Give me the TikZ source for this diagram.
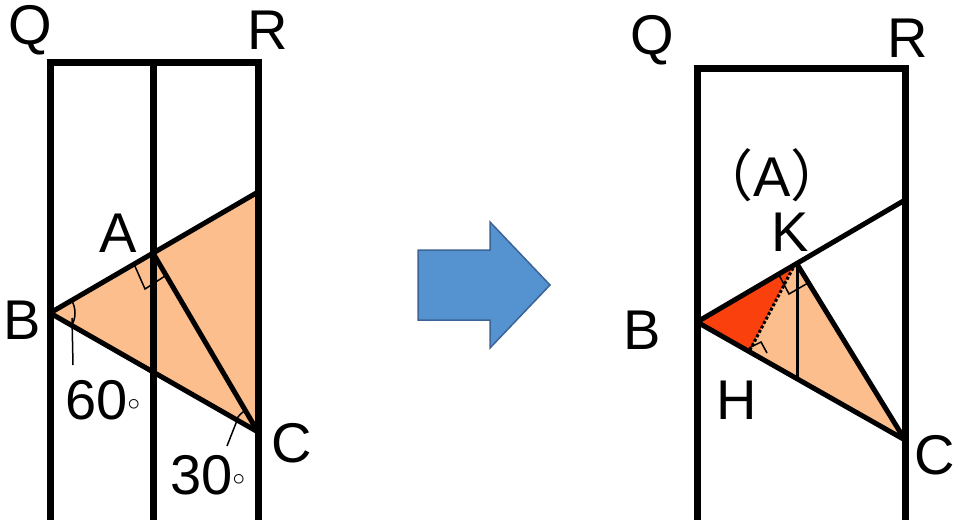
\documentclass[tikz,border=0pt]{standalone}
\usepackage{fontspec}
\setmainfont{Liberation Sans}
\newfontfamily\cjk{Noto Sans CJK JP}
\usetikzlibrary{calc}
\definecolor{peach}{RGB}{251,190,140}
\definecolor{redfill}{RGB}{250,64,12}
\definecolor{arrowblue}{RGB}{84,146,208}
\definecolor{arrowedge}{RGB}{60,100,150}
\tikzset{
  wall/.style={line width=7pt},
  edge/.style={line width=5pt,line join=round},
  lbl/.style={font=\fontsize{56}{56}\selectfont},
  fineline/.style={line width=1.5pt}
}
\begin{document}
\begin{tikzpicture}[x=1pt,y=-1pt]
    \useasboundingbox (0,0) rectangle (960,530);
    % left figure
    \coordinate (B1) at (50,313);
    \coordinate (T1) at (258,192);
    \coordinate (C1) at (258,432);
    \coordinate (A1) at (153,253);
    \fill[peach] (B1) -- (T1) -- (C1) -- cycle;
    \draw[edge] (B1) -- (T1) (B1) -- (C1) (A1) -- (C1);
    \draw[fineline] (134,264) -- (145,289) -- (165,276);
    \draw[fineline] ($(B1)+(-30:25)$) arc (-30:30:25);
    \draw[fineline] (72,318) -- (73,365);
    \draw[fineline] ($(C1)+(-120:25)$) arc (-120:-150:25);
    \draw[fineline] (238,418) -- (227,446);
    \foreach \x in {50,153,258} {
      \draw[wall] (\x,62) -- (\x,520);
    }
    \draw[wall] (46.5,62) -- (261.5,62);
    \node[lbl] (q1) at (30,30) {Q};
    \node[lbl] (r1) at (268,30) {R};
    \node[lbl] (a1) at (118,233) {A};
    \node[lbl] (b1) at (22,320) {B};
    \node[lbl] (c1) at (292,443) {C};
    \node[lbl] (d60) at (103,400) {60$^\circ$};
    \node[lbl] (d30) at (208,475) {30$^\circ$};
    % arrow
    \draw[arrowedge,fill=arrowblue,line width=1.5pt]
      (418,250) -- (490,250) -- (490,222) -- (550,285) -- (490,348) -- (490,320) -- (418,320) -- cycle;
    % right figure
    \coordinate (B2) at (697,322);
    \coordinate (T2) at (905,200);
    \coordinate (C2) at (905,440);
    \coordinate (K2) at (797,264);
    \coordinate (H2) at (750,350);
    \coordinate (F2) at (797,380);
    \fill[peach] (B2) -- (K2) -- (C2) -- cycle;
    \fill[redfill] (B2) -- (793,267) -- (H2) -- cycle;
    \draw[fineline] (779,275) -- (789,294) -- (808,283);
    \draw[fineline] (749,348) -- (761,342) -- (767,353);
    \draw[line width=3pt,dotted] (793,268) -- (H2);
    \draw[line width=3pt] (K2) -- (F2);
    \draw[edge] (B2) -- (T2) (B2) -- (C2) (K2) -- (C2);
    \foreach \x in {697,905} {
      \draw[wall] (\x,68) -- (\x,520);
    }
    \draw[wall] (693.5,68) -- (908.5,68);
    \node[lbl] (q2) at (652,40) {Q};
    \node[lbl] (r2) at (908,38) {R};
    \node[lbl] (pa) at (772,175) {{\cjk （}A{\cjk ）}};
    \node[lbl] (k2) at (790,232) {K};
    \node[lbl] (b2) at (642,330) {B};
    \node[lbl] (h2) at (737,400) {H};
    \node[lbl] (c2) at (935,455) {C};
\end{tikzpicture}
\end{document}
